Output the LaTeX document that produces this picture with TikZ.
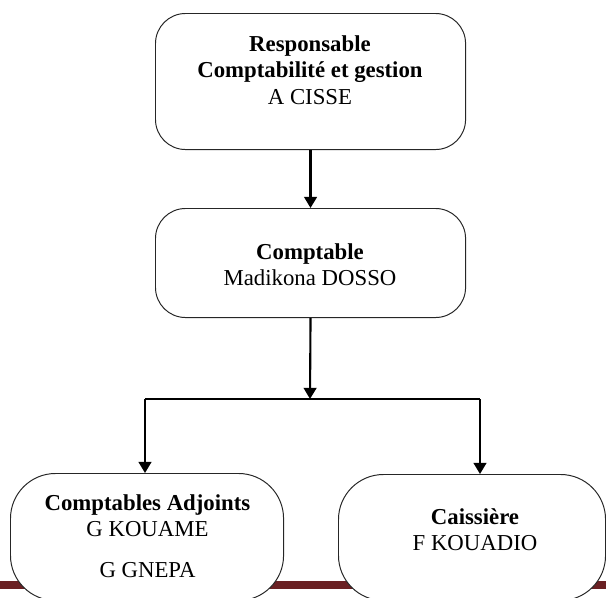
\documentclass[tikz,border=0pt]{standalone}
\usepackage{fontspec}
\setmainfont{Liberation Serif}
\usetikzlibrary{arrows.meta}
\definecolor{barred}{HTML}{6A2023}
\begin{document}
\begin{tikzpicture}[x=0.025cm,y=-0.025cm,
	poste/.style={draw=black!85,line width=0.7pt,fill=white,rounded corners=0.75cm,inner sep=0pt},
	basposte/.style={poste,rounded corners=1.125cm},
	nom/.style={anchor=north,inner sep=0pt,align=center,font=\fontsize{16.2}{19}\selectfont},
	fleche/.style={line width=1.5pt,-{Triangle[width=0.32cm,length=0.28cm]}}]
	\useasboundingbox (0,0) rectangle (606,598);
	\clip (0,0) rectangle (606,598);
	\fill [barred] (0,581) rectangle (606,589);
	\path node (resp) at (155,13) [poste,anchor=north west,minimum width=7.75cm,minimum height=3.4cm] {}
		  node (compta) at (155,208) [poste,anchor=north west,minimum width=7.75cm,minimum height=2.725cm] {}
		  node (adj) at (10,473) [basposte,anchor=north west,minimum width=6.825cm,minimum height=3.175cm] {}
		  node (caisse) at (338,474) [basposte,anchor=north west,minimum width=6.675cm,minimum height=3.15cm] {};
	\path node (respnom) at (310,35) [nom] {\textbf{Responsable}\\\textbf{Comptabilité et gestion}\\A CISSE}
		  node (comptanom) at (310,243) [nom] {\textbf{Comptable}\\Madikona DOSSO}
		  node (adjnom) at (147.5,494) [nom] {\textbf{Comptables Adjoints}\\G KOUAME\\[10pt]G GNEPA}
		  node (caissenom) at (475,508) [nom] {\textbf{Caissière}\\F KOUADIO};
	\coordinate (split) at (310,399);
	\coordinate (brL) at (145,399);
	\coordinate (brR) at (480,399);
	\draw [fleche] (resp.south) -- (compta.north);
	\draw [fleche] (compta.south) -- (split);
	\draw [line width=0.8pt] (brL) -- (brR);
	\draw [fleche] (brL) -- (brL |- adj.north);
	\draw [fleche] (brR) -- (brR |- caisse.north);
\end{tikzpicture}
\end{document}
